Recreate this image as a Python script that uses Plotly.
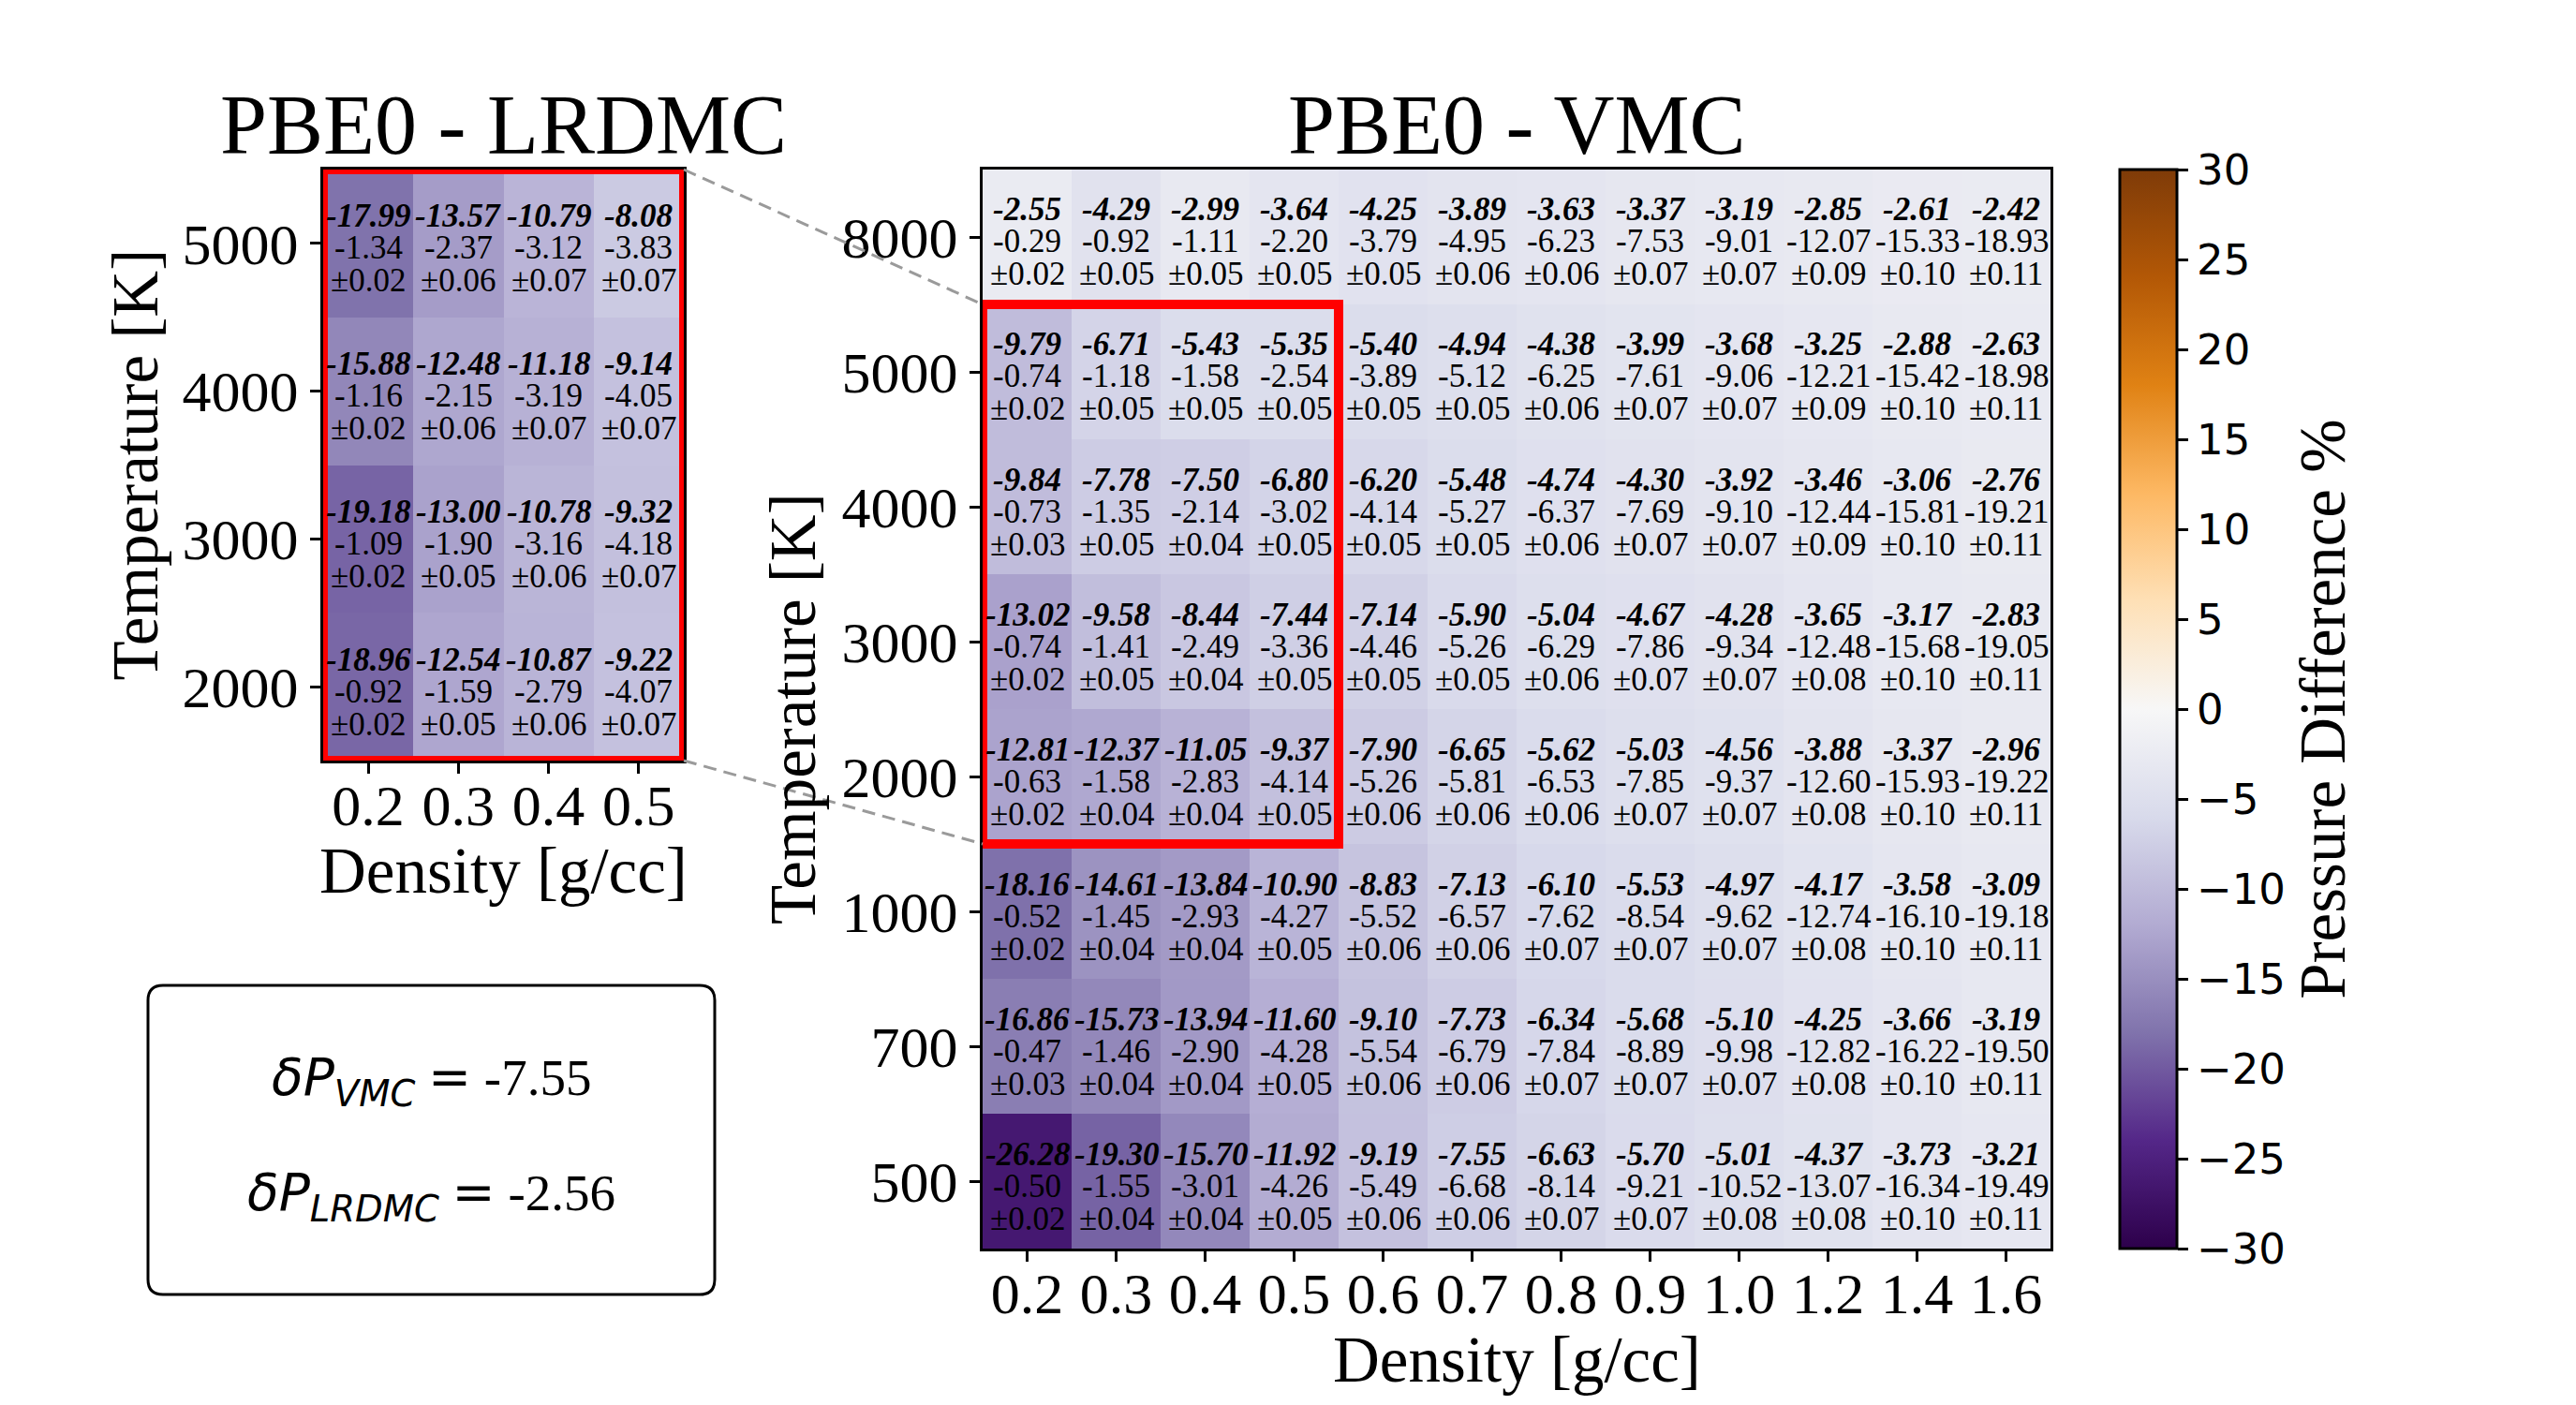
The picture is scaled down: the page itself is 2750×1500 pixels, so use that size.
import plotly.graph_objects as go

# ---------------- data ----------------
densities = ["0.2", "0.3", "0.4", "0.5", "0.6", "0.7", "0.8", "0.9", "1.0", "1.2", "1.4", "1.6"]
temps_vmc = ["8000", "5000", "4000", "3000", "2000", "1000", "700", "500"]  # top -> bottom

vmc_diff = [
    [-2.55, -4.29, -2.99, -3.64, -4.25, -3.89, -3.63, -3.37, -3.19, -2.85, -2.61, -2.42],
    [-9.79, -6.71, -5.43, -5.35, -5.40, -4.94, -4.38, -3.99, -3.68, -3.25, -2.88, -2.63],
    [-9.84, -7.78, -7.50, -6.80, -6.20, -5.48, -4.74, -4.30, -3.92, -3.46, -3.06, -2.76],
    [-13.02, -9.58, -8.44, -7.44, -7.14, -5.90, -5.04, -4.67, -4.28, -3.65, -3.17, -2.83],
    [-12.81, -12.37, -11.05, -9.37, -7.90, -6.65, -5.62, -5.03, -4.56, -3.88, -3.37, -2.96],
    [-18.16, -14.61, -13.84, -10.90, -8.83, -7.13, -6.10, -5.53, -4.97, -4.17, -3.58, -3.09],
    [-16.86, -15.73, -13.94, -11.60, -9.10, -7.73, -6.34, -5.68, -5.10, -4.25, -3.66, -3.19],
    [-26.28, -19.30, -15.70, -11.92, -9.19, -7.55, -6.63, -5.70, -5.01, -4.37, -3.73, -3.21],
]
vmc_pressure = [
    [-0.29, -0.92, -1.11, -2.20, -3.79, -4.95, -6.23, -7.53, -9.01, -12.07, -15.33, -18.93],
    [-0.74, -1.18, -1.58, -2.54, -3.89, -5.12, -6.25, -7.61, -9.06, -12.21, -15.42, -18.98],
    [-0.73, -1.35, -2.14, -3.02, -4.14, -5.27, -6.37, -7.69, -9.10, -12.44, -15.81, -19.21],
    [-0.74, -1.41, -2.49, -3.36, -4.46, -5.26, -6.29, -7.86, -9.34, -12.48, -15.68, -19.05],
    [-0.63, -1.58, -2.83, -4.14, -5.26, -5.81, -6.53, -7.85, -9.37, -12.60, -15.93, -19.22],
    [-0.52, -1.45, -2.93, -4.27, -5.52, -6.57, -7.62, -8.54, -9.62, -12.74, -16.10, -19.18],
    [-0.47, -1.46, -2.90, -4.28, -5.54, -6.79, -7.84, -8.89, -9.98, -12.82, -16.22, -19.50],
    [-0.50, -1.55, -3.01, -4.26, -5.49, -6.68, -8.14, -9.21, -10.52, -13.07, -16.34, -19.49],
]
vmc_err = [
    [0.02, 0.05, 0.05, 0.05, 0.05, 0.06, 0.06, 0.07, 0.07, 0.09, 0.10, 0.11],
    [0.02, 0.05, 0.05, 0.05, 0.05, 0.05, 0.06, 0.07, 0.07, 0.09, 0.10, 0.11],
    [0.03, 0.05, 0.04, 0.05, 0.05, 0.05, 0.06, 0.07, 0.07, 0.09, 0.10, 0.11],
    [0.02, 0.05, 0.04, 0.05, 0.05, 0.05, 0.06, 0.07, 0.07, 0.08, 0.10, 0.11],
    [0.02, 0.04, 0.04, 0.05, 0.06, 0.06, 0.06, 0.07, 0.07, 0.08, 0.10, 0.11],
    [0.02, 0.04, 0.04, 0.05, 0.06, 0.06, 0.07, 0.07, 0.07, 0.08, 0.10, 0.11],
    [0.03, 0.04, 0.04, 0.05, 0.06, 0.06, 0.07, 0.07, 0.07, 0.08, 0.10, 0.11],
    [0.02, 0.04, 0.04, 0.05, 0.06, 0.06, 0.07, 0.07, 0.08, 0.08, 0.10, 0.11],
]

densities_lr = ["0.2", "0.3", "0.4", "0.5"]
temps_lr = ["5000", "4000", "3000", "2000"]  # top -> bottom
lr_diff = [
    [-17.99, -13.57, -10.79, -8.08],
    [-15.88, -12.48, -11.18, -9.14],
    [-19.18, -13.00, -10.78, -9.32],
    [-18.96, -12.54, -10.87, -9.22],
]
lr_pressure = [
    [-1.34, -2.37, -3.12, -3.83],
    [-1.16, -2.15, -3.19, -4.05],
    [-1.09, -1.90, -3.16, -4.18],
    [-0.92, -1.59, -2.79, -4.07],
]
lr_err = [
    [0.02, 0.06, 0.07, 0.07],
    [0.02, 0.06, 0.07, 0.07],
    [0.02, 0.05, 0.06, 0.07],
    [0.02, 0.05, 0.06, 0.07],
]

dP_vmc = -7.55
dP_lrdmc = -2.56

cbar_ticks = [-30, -25, -20, -15, -10, -5, 0, 5, 10, 15, 20, 25, 30]

# ---------------- styling / geometry ----------------
W, H = 2750, 1500
OFF = 8  # page body margin compensation
SERIF = "Liberation Serif, Times New Roman, serif"
SANS = "DejaVu Sans, sans-serif"


def px_x(p):
    return (p - OFF) / W


def px_y(p):
    return 1 - (p - OFF) / H


MAIN_X = (1049, 2189)
MAIN_Y = (181, 1333)
LEFT_X = (345, 730)
LEFT_Y = (181, 812)

puor_r = ["#2d004b", "#542788", "#8073ac", "#b2abd2", "#d8daeb", "#f7f7f7",
          "#fee0b6", "#fdb863", "#e08214", "#b35806", "#7f3b08"]
colorscale = [[i / (len(puor_r) - 1), c] for i, c in enumerate(puor_r)]

xi_main = list(range(len(densities)))
yi_main = list(range(len(temps_vmc)))
xi_lr = list(range(len(densities_lr)))
yi_lr = list(range(len(temps_lr)))

fig = go.Figure()

fig.add_trace(go.Heatmap(
    z=vmc_diff, x=xi_main, y=yi_main, coloraxis="coloraxis",
    xaxis="x", yaxis="y", hoverinfo="skip", xgap=0, ygap=0,
))
fig.add_trace(go.Heatmap(
    z=lr_diff, x=xi_lr, y=yi_lr, coloraxis="coloraxis",
    xaxis="x2", yaxis="y2", hoverinfo="skip", xgap=0, ygap=0,
))

axis_common = dict(
    showline=True, mirror=True, linecolor="black", linewidth=3,
    ticks="outside", ticklen=11, tickwidth=3, tickcolor="black",
    tickfont=dict(family=SERIF, size=62, color="black"),
    showgrid=False, zeroline=False, fixedrange=True,
)

annotations = []
SHIFTS = (29, -5, -40)
CELL_FONT = 35


def cell_text(xs, ys, diff, pres, err, xref, yref):
    for i in range(len(ys)):
        for j in range(len(xs)):
            lines = [
                "<b><i>%.2f</i></b>" % diff[i][j],
                "%.2f" % pres[i][j],
                "\u00b1%.2f" % err[i][j],
            ]
            for txt, sh in zip(lines, SHIFTS):
                annotations.append(dict(
                    x=j, y=i, xref=xref, yref=yref, text=txt, showarrow=False,
                    yshift=sh, xanchor="center", yanchor="middle", borderpad=0,
                    font=dict(family=SERIF, size=CELL_FONT, color="black"),
                ))


cell_text(densities, temps_vmc, vmc_diff, vmc_pressure, vmc_err, "x", "y")
cell_text(densities_lr, temps_lr, lr_diff, lr_pressure, lr_err, "x2", "y2")

# titles
main_cx = px_x((MAIN_X[0] + MAIN_X[1]) / 2)
left_cx = px_x((LEFT_X[0] + LEFT_X[1]) / 2)
TITLE_FONT = dict(family=SERIF, size=90, color="black")
AXT_FONT = dict(family=SERIF, size=69, color="black")
annotations += [
    dict(x=main_cx, y=px_y(134), xref="paper", yref="paper", text="PBE0 - VMC",
         showarrow=False, xanchor="center", yanchor="middle", font=TITLE_FONT),
    dict(x=left_cx, y=px_y(134), xref="paper", yref="paper", text="PBE0 - LRDMC",
         showarrow=False, xanchor="center", yanchor="middle", font=TITLE_FONT),
    dict(x=main_cx, y=px_y(1452), xref="paper", yref="paper", text="Density [g/cc]",
         showarrow=False, xanchor="center", yanchor="middle", font=AXT_FONT),
    dict(x=px_x(847), y=px_y((MAIN_Y[0] + MAIN_Y[1]) / 2), xref="paper", yref="paper",
         text="Temperature [K]", textangle=-90,
         showarrow=False, xanchor="center", yanchor="middle", font=AXT_FONT),
    dict(x=left_cx, y=px_y(930), xref="paper", yref="paper", text="Density [g/cc]",
         showarrow=False, xanchor="center", yanchor="middle", font=AXT_FONT),
    dict(x=px_x(144), y=px_y((LEFT_Y[0] + LEFT_Y[1]) / 2), xref="paper", yref="paper",
         text="Temperature [K]", textangle=-90,
         showarrow=False, xanchor="center", yanchor="middle", font=AXT_FONT),
]

# summary box text
BOX = (158, 763, 1052, 1382)
box_cx = px_x((BOX[0] + BOX[1]) / 2)


def dp_label(sub, val):
    return ('<span style="font-family:DejaVu Sans"><i>\u03b4P</i><sub><i>%s</i></sub></span> '
            '<span style="font-family:DejaVu Sans">=</span> %.2f' % (sub, val))


annotations += [
    dict(x=box_cx, y=px_y(1154), xref="paper", yref="paper", text=dp_label("VMC", dP_vmc),
         showarrow=False, xanchor="center", yanchor="middle",
         font=dict(family=SERIF, size=55, color="black")),
    dict(x=box_cx, y=px_y(1277), xref="paper", yref="paper", text=dp_label("LRDMC", dP_lrdmc),
         showarrow=False, xanchor="center", yanchor="middle",
         font=dict(family=SERIF, size=55, color="black")),
]

# shapes
n_rows = len(temps_vmc)
row_h = (MAIN_Y[1] - MAIN_Y[0]) / n_rows
zoom_rows = [temps_vmc.index(t) for t in temps_lr]
zoom_cols = [densities.index(d) for d in densities_lr]
r_top = min(zoom_rows) - 0.5
r_bot = max(zoom_rows) + 0.5
c_left = min(zoom_cols) - 0.5
c_right = max(zoom_cols) + 0.5

shapes = [
    dict(type="rect", xref="x", yref="y", x0=c_left, x1=c_right, y0=r_top, y1=r_bot,
         line=dict(color="red", width=10), fillcolor="rgba(0,0,0,0)", layer="above"),
    dict(type="rect", xref="x2", yref="y2", x0=-0.5, x1=len(densities_lr) - 0.5,
         y0=-0.5, y1=len(temps_lr) - 0.5,
         line=dict(color="red", width=10), fillcolor="rgba(0,0,0,0)", layer="above"),
    dict(type="line", xref="paper", yref="paper",
         x0=px_x(LEFT_X[1]), y0=px_y(LEFT_Y[0]),
         x1=px_x(MAIN_X[0]), y1=px_y(MAIN_Y[0] + (r_top + 0.5) * row_h),
         line=dict(color="#9a9a9a", width=3, dash="14px,8px"), layer="above"),
    dict(type="line", xref="paper", yref="paper",
         x0=px_x(LEFT_X[1]), y0=px_y(LEFT_Y[1]),
         x1=px_x(MAIN_X[0]), y1=px_y(MAIN_Y[0] + (r_bot + 0.5) * row_h),
         line=dict(color="#9a9a9a", width=3, dash="14px,8px"), layer="above"),
]

bx0, bx1, by0, by1 = BOX
rr = 16


def pts(x, y):
    return "%f,%f" % (px_x(x), px_y(y))


path = ("M " + pts(bx0 + rr, by0) + " L " + pts(bx1 - rr, by0) +
        " Q " + pts(bx1, by0) + " " + pts(bx1, by0 + rr) +
        " L " + pts(bx1, by1 - rr) +
        " Q " + pts(bx1, by1) + " " + pts(bx1 - rr, by1) +
        " L " + pts(bx0 + rr, by1) +
        " Q " + pts(bx0, by1) + " " + pts(bx0, by1 - rr) +
        " L " + pts(bx0, by0 + rr) +
        " Q " + pts(bx0, by0) + " " + pts(bx0 + rr, by0) + " Z")
shapes.append(dict(type="path", xref="paper", yref="paper", path=path,
                   line=dict(color="black", width=3), fillcolor="white", layer="below"))

fig.update_layout(
    width=W, height=H,
    margin=dict(l=0, r=0, t=0, b=0),
    paper_bgcolor="white", plot_bgcolor="white",
    showlegend=False,
    xaxis=dict(axis_common, domain=[px_x(MAIN_X[0]), px_x(MAIN_X[1])], anchor="y",
               range=[-0.5, len(densities) - 0.5],
               tickmode="array", tickvals=xi_main, ticktext=densities,
               ticklabelstandoff=-19),
    yaxis=dict(axis_common, domain=[px_y(MAIN_Y[1]), px_y(MAIN_Y[0])], anchor="x",
               range=[len(temps_vmc) - 0.5, -0.5],
               tickmode="array", tickvals=yi_main, ticktext=temps_vmc,
               ticklabelstandoff=0),
    xaxis2=dict(axis_common, domain=[px_x(LEFT_X[0]), px_x(LEFT_X[1])], anchor="y2",
                range=[-0.5, len(densities_lr) - 0.5],
                tickmode="array", tickvals=xi_lr, ticktext=densities_lr,
                ticklabelstandoff=-19),
    yaxis2=dict(axis_common, domain=[px_y(LEFT_Y[1]), px_y(LEFT_Y[0])], anchor="x2",
                range=[len(temps_lr) - 0.5, -0.5],
                tickmode="array", tickvals=yi_lr, ticktext=temps_lr,
                ticklabelstandoff=0),
    coloraxis=dict(
        colorscale=colorscale, cmin=-30, cmax=30,
        colorbar=dict(
            x=px_x(2263), xanchor="left", xpad=0,
            y=px_y(MAIN_Y[1]), yanchor="bottom", ypad=0,
            len=(MAIN_Y[1] - MAIN_Y[0]) / H, lenmode="fraction",
            thickness=61, thicknessmode="pixels",
            outlinecolor="black", outlinewidth=3,
            ticks="outside", ticklen=11, tickwidth=3, tickcolor="black",
            tickvals=cbar_ticks,
            tickfont=dict(family=SANS, size=45, color="black"),
            title=dict(text="Pressure Difference %", side="right",
                       font=dict(family=SERIF, size=69, color="black")),
        ),
    ),
    annotations=annotations,
    shapes=shapes,
)

fig.write_html("out.html")
